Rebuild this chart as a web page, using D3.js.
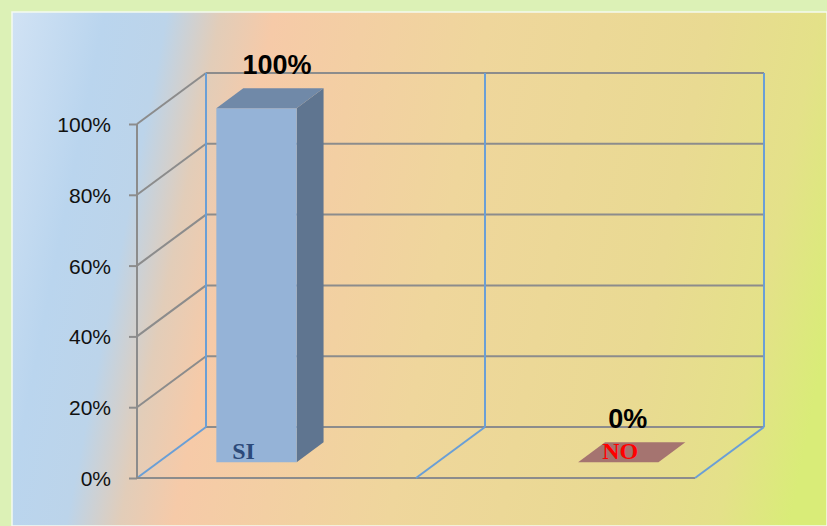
<!DOCTYPE html>
<html><head><meta charset="utf-8">
<script src="https://cdn.jsdelivr.net/npm/d3@7"></script>
<style>html,body{margin:0;padding:0;background:#ddf2b8;}svg{display:block}</style>
</head><body>
<svg id="c" width="827" height="526"></svg>
<script>
// ---- data ----
const categories = ["SI", "NO"];
const series = ["SI", "NO"];
const siValues = [1.00, null];
const noValues = [null, 0.00];
const valueLabels = ["100%", "0%"];
const yTicks = [0, 0.2, 0.4, 0.6, 0.8, 1.0];
const yTickLabels = ["0%", "20%", "40%", "60%", "80%", "100%"];

const svg = d3.select("#c");
const W = 827, H = 526;

// background
const defs = svg.append("defs");
const g1 = defs.append("linearGradient").attr("id","bg").attr("gradientUnits","userSpaceOnUse")
  .attr("x1",0).attr("y1",0).attr("x2",860).attr("y2",170);
[[0,"#d4e4f5"],[0.12,"#bad5ee"],[0.19,"#bcd4ea"],[0.25,"#e2cdb9"],[0.31,"#f6caa8"],[0.55,"#efd69c"],[0.8,"#e9da92"],[0.92,"#e4e189"],[1.04,"#d9ec78"]]
  .forEach(([o,c])=>g1.append("stop").attr("offset",o).attr("stop-color",c));
svg.append("rect").attr("width",W).attr("height",H).attr("fill","#dcf1b6");
svg.append("rect").attr("x",12).attr("y",12).attr("width",W-12).attr("height",H-12)
  .attr("fill","url(#bg)").attr("stroke","#f4faf0").attr("stroke-width",1.5);

// scales (front plane)
const x = d3.scaleBand().domain(categories).range([137, 695]);
const y = d3.scaleLinear().domain([0, 1]).range([478, 124]);
const DX = 69, DY = -51; // depth vector
const P = (xf, v, d) => [xf + DX*d, y(v) + DY*d];

const gray = "#8c8c8c", blue = "#6a9fd6";
const line = (a, b, col) => svg.append("line").attr("x1",a[0]).attr("y1",a[1]).attr("x2",b[0]).attr("y2",b[1])
  .attr("stroke",col).attr("stroke-width",2);

const x0 = x.range()[0], x1 = x.range()[1];
// back wall + side wall gridlines
yTicks.forEach(t => {
  line(P(x0, t, 1), P(x1, t, 1), gray);
  line(P(x0, t, 0), P(x0, t, 1), t === 0 ? blue : gray);
});
// floor front edge
line(P(x0,0,0), P(x1,0,0), gray);
// front axis vertical
line(P(x0,0,0), P(x0,1,0), gray);
// back wall verticals & floor diagonals
const divs = [x0, ...categories.slice(1).map(c => x(c)), x1];
divs.forEach((xv,i) => {
  line(P(xv,0,1), P(xv,1,1), blue);
  if (i>0) line(P(xv,0,0), P(xv,0,1), blue);
});
// ticks
const yAxis = d3.axisLeft(y).tickValues(yTicks).tickSize(8).tickFormat((d,i)=>yTickLabels[i]);
const ga = svg.append("g").attr("transform",`translate(${x0},0)`).call(yAxis);
ga.select(".domain").remove();
ga.selectAll(".tick line").attr("stroke",gray).attr("stroke-width",2);
ga.selectAll(".tick text").attr("font-family","Liberation Sans, Arial, sans-serif").attr("font-size",21)
  .attr("fill","#111").attr("x",-26).attr("dy","0.36em");

// bars
const inner = d3.scaleBand().domain(series).range([0, x.bandwidth()]).paddingOuter(0.7).paddingInner(0.03);
const dF = 0.31, dB = 0.70;
const styles = {
  SI: {front:"#95b3d7", top:"#7089a8", side:"#5f7590", text:"#2c4a7a"},
  NO: {front:"#b0807a", top:"#a57470", side:"#8e5f5b", text:"#ff0000"}
};
const labelDx = [-13, 2];
const valueDx = [7, -4];
const poly = (pts, fill) => svg.append("polygon").attr("points", pts.map(p=>p.join(",")).join(" ")).attr("fill", fill);

const bars = [];
categories.forEach((c, ci) => {
  [[ "SI", siValues[ci] ], [ "NO", noValues[ci] ]].forEach(([s, v]) => {
    if (v === null || v === undefined) return;
    bars.push({c, ci, s, v});
  });
});
bars.forEach(b => {
  const xl = x(b.c) + inner(b.s), xr = xl + inner.bandwidth();
  const st = styles[b.s];
  poly([P(xr,0,dF), P(xr,0,dB), P(xr,b.v,dB), P(xr,b.v,dF)], st.side);
  poly([P(xl,0,dF), P(xr,0,dF), P(xr,b.v,dF), P(xl,b.v,dF)], st.front);
  poly([P(xl,b.v,dF), P(xr,b.v,dF), P(xr,b.v,dB), P(xl,b.v,dB)], st.top);
  const tc = [(P(xl,b.v,dF)[0]+P(xr,b.v,dB)[0])/2, (P(xl,b.v,dF)[1]+P(xr,b.v,dB)[1])/2];
  svg.append("text").attr("x", tc[0]+valueDx[b.ci]).attr("y", tc[1]-24).attr("text-anchor","middle")
    .attr("font-family","Liberation Sans, Arial, sans-serif").attr("font-weight","bold").attr("font-size",27)
    .attr("fill","#000").text(valueLabels[b.ci]);
  const fb = P((xl+xr)/2, 0, dF);
  svg.append("text").attr("x", fb[0]+labelDx[b.ci]).attr("y", fb[1]-3).attr("text-anchor","middle")
    .attr("font-family","Liberation Serif, Times New Roman, serif").attr("font-weight","bold").attr("font-size",24)
    .attr("fill", st.text).text(b.c);
});
</script>
</body></html>
